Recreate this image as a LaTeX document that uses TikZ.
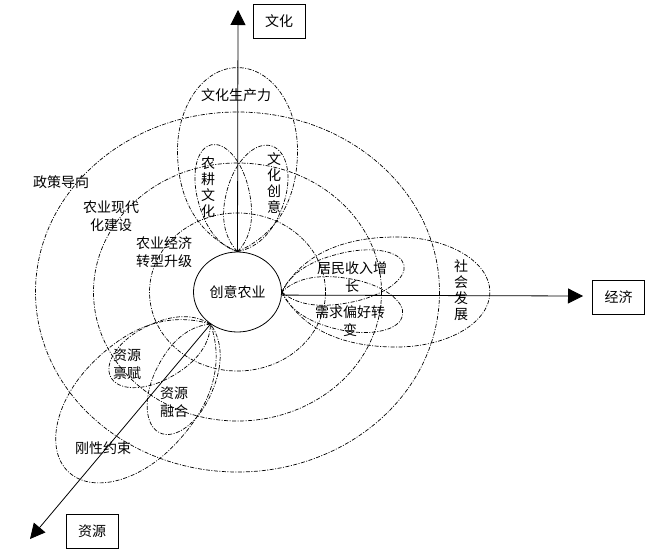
\documentclass[tikz,border=0pt]{standalone}
\usepackage{fontspec}
\newfontfamily\cjk{Noto Sans CJK SC}
\usetikzlibrary{shapes.geometric,arrows.meta}
\newcommand{\leafdraw}[4]{%
  \begin{scope}[shift={(#1)},rotate=#2]
    \draw[dd] (0,0) .. controls ({0.1*#3},{0.7*#4}) and ({0.3*#3},{#4}) .. ({0.55*#3},{#4})
      .. controls ({0.8*#3},{#4}) and ({#3},{0.552*#4}) .. ({#3},0)
      .. controls ({#3},{-0.552*#4}) and ({0.8*#3},{-#4}) .. ({0.55*#3},{-#4})
      .. controls ({0.3*#3},{-#4}) and ({0.1*#3},{-0.7*#4}) .. (0,0);
  \end{scope}}
\begin{document}
\begin{tikzpicture}[x=1pt,y=-1pt,
  dd/.style={line width=0.7pt, dash pattern=on 4pt off 1.5pt on 1pt off 1.5pt},
  lbl/.style={font={\cjk\fontsize{14}{18}\selectfont}, align=center, inner sep=0pt},
  vlbl/.style={font={\cjk\fontsize{14}{16}\selectfont}, align=center, inner sep=0pt},
  boxnode/.style={draw, line width=0.8pt, minimum width=52pt, minimum height=34pt, inner sep=0pt, font={\cjk\fontsize{14}{16}\selectfont}},
  axisline/.style={line width=0.8pt, -{Triangle[length=15pt,width=15pt]}}]
\useasboundingbox (0,0) rectangle (647,554);
\coordinate (o) at (237.5,292);
% concentric dash-dot ellipses
\draw[dd] (o) ellipse [x radius=88, y radius=79];
\draw[dd] (o) ellipse [x radius=144, y radius=129];
\draw[dd] (o) ellipse [x radius=202, y radius=180];
% central node
\node[draw, ellipse, line width=0.8pt, minimum width=88pt, minimum height=80pt, inner sep=0pt, font={\cjk\fontsize{14}{16}\selectfont}] (c) at (o) {创意农业};
% petals
\leafdraw{c.north}{90}{184}{60}
\leafdraw{c.north}{104}{110}{26}
\leafdraw{c.north}{72}{111}{29}
\leafdraw{c.east}{0}{208}{55}
\leafdraw{c.east}{12.5}{125}{25}
\leafdraw{c.east}{-11}{123}{26}
\leafdraw{c.230}{226}{205}{58}
\leafdraw{c.230}{208}{113}{28}
\leafdraw{c.230}{245}{120}{30}
% axes
\coordinate (wt) at (238,10);
\coordinate (je) at (583,296);
\coordinate (zy) at (30,539);
\draw[axisline] (c.north) -- (wt);
\draw[axisline] (c.-4) -- (je);
\draw[axisline] (c.230) -- (zy);
% boxes
\node[boxnode] (bw) at (279,21.5) {文化};
\node[boxnode] (bj) at (618.5,297.5) {经济};
\node[boxnode] (bz) at (92,531.5) {资源};
% labels
\node[lbl] (l1) at (236,95) {文化生产力};
\node[vlbl] (l2) at (208,187) {农\\耕\\文\\化};
\node[vlbl] (l3) at (274,183) {文\\化\\创\\意};
\node[lbl] (l4) at (61,182) {政策导向};
\node[lbl] (l5) at (111,216) {农业现代\\化建设};
\node[lbl] (l6) at (164,252) {农业经济\\转型升级};
\node[lbl] (l7) at (352,277) {居民收入增\\长};
\node[lbl] (l8) at (350,321) {需求偏好转\\变};
\node[vlbl] (l9) at (461,290) {社\\会\\发\\展};
\node[lbl] (l10) at (127,364) {资源\\禀赋};
\node[lbl] (l11) at (174,402) {资源\\融合};
\node[lbl] (l12) at (103,448) {刚性约束};
\end{tikzpicture}
\end{document}
